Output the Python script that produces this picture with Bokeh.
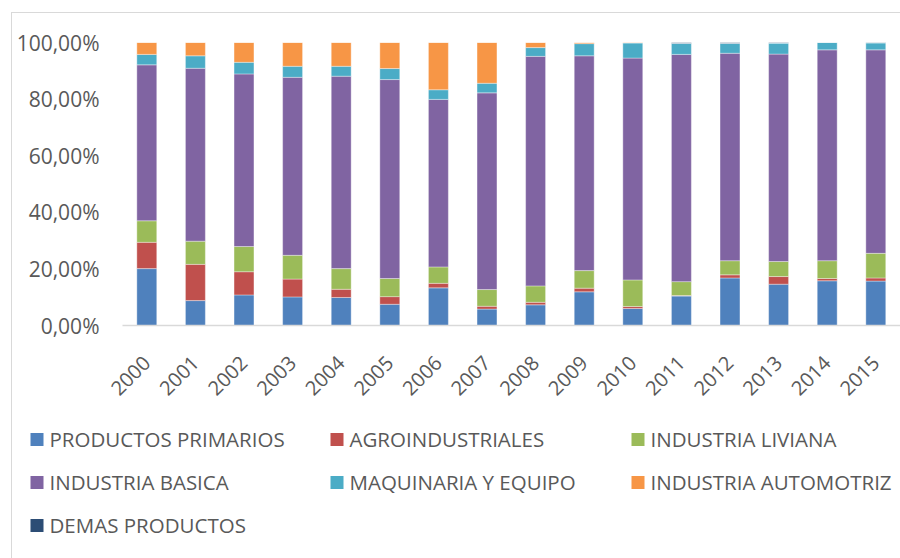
import math
from bokeh.plotting import figure
from bokeh.layouts import column, row
from bokeh.models import Range1d, FixedTicker, ColumnDataSource
from bokeh.core.properties import value
from bokeh.embed import file_html
from bokeh.resources import INLINE

years = [2000, 2001, 2002, 2003, 2004, 2005, 2006, 2007,
         2008, 2009, 2010, 2011, 2012, 2013, 2014, 2015]
year_labels = [str(y) for y in years]

primarios = [20.1, 8.8, 10.8, 10.1, 9.9, 7.5, 13.3, 5.8, 7.3, 11.9, 6.0, 10.4, 16.8, 14.6, 15.8, 15.7]
agro = [9.3, 12.8, 8.2, 6.3, 2.9, 2.7, 1.6, 1.0, 0.9, 1.3, 0.7, 0.2, 1.1, 2.7, 0.8, 1.1]
liviana = [7.6, 8.2, 8.9, 8.4, 7.3, 6.4, 5.8, 5.9, 5.8, 6.2, 9.4, 4.9, 5.0, 5.3, 6.3, 8.7]
basica = [55.1, 61.1, 61.0, 62.9, 68.0, 70.3, 59.2, 69.5, 81.1, 75.9, 78.4, 80.3, 73.3, 73.3, 74.5, 71.9]
maquinaria = [3.7, 4.4, 4.1, 3.9, 3.5, 3.9, 3.4, 3.4, 3.1, 4.3, 5.3, 3.9, 3.5, 3.9, 2.6, 2.5]
automotriz = [4.2, 4.7, 7.0, 8.4, 8.4, 9.2, 16.7, 14.4, 1.8, 0.4, 0.2, 0.0, 0.0, 0.0, 0.0, 0.0]
demas = [0.0, 0.0, 0.0, 0.0, 0.0, 0.0, 0.0, 0.0, 0.0, 0.0, 0.0, 0.3, 0.3, 0.2, 0.0, 0.1]

series_names = ["PRODUCTOS PRIMARIOS", "AGROINDUSTRIALES", "INDUSTRIA LIVIANA",
                "INDUSTRIA BASICA", "MAQUINARIA Y EQUIPO", "INDUSTRIA AUTOMOTRIZ",
                "DEMAS PRODUCTOS"]
series_values = [primarios, agro, liviana, basica, maquinaria, automotriz, demas]
colors = ["#4F81BD", "#C0504D", "#9BBB59", "#8064A2", "#4BACC6", "#F79646", "#2C4D75"]

y_ticks = [0, 20, 40, 60, 80, 100]
y_tick_labels = ["0,00%", "20,00%", "40,00%", "60,00%", "80,00%", "100,00%"]

keys = ["s%d" % i for i in range(len(series_names))]
data = {"x": years}
for k, v in zip(keys, series_values):
    data[k] = v

FONT = "Open Sans"
TXT = "#595959"
W = 900

# ---------------- main chart ----------------
p = figure(width=W, height=410, output_backend="svg", toolbar_location=None,
           x_range=Range1d(1999.5, 1999.5 + 778 / 48.6), y_range=Range1d(0, 100),
           min_border_left=122, min_border_right=0, min_border_top=42,
           min_border_bottom=85, border_fill_color=None)
p.outline_line_color = None
p.grid.visible = False

p.vbar_stack(keys, x="x", width=0.41, source=data, color=colors,
             line_color="white", line_width=0.6, line_alpha=0.6)

p.yaxis.ticker = FixedTicker(ticks=y_ticks)
p.yaxis.major_label_overrides = {t: l for t, l in zip(y_ticks, y_tick_labels)}
p.yaxis.axis_line_color = None
p.yaxis.major_tick_line_color = None
p.yaxis.minor_tick_line_color = None
p.yaxis.major_tick_out = 0
p.yaxis.major_label_standoff = 23
p.yaxis.major_label_text_font = FONT
p.yaxis.major_label_text_font_size = "21px"
p.yaxis.major_label_text_color = TXT

p.xaxis.ticker = FixedTicker(ticks=years)
p.xaxis.major_label_overrides = {y: l for y, l in zip(years, year_labels)}
p.xaxis.axis_line_color = "#d9d9d9"
p.xaxis.axis_line_width = 1.5
p.xaxis.major_tick_line_color = None
p.xaxis.minor_tick_line_color = None
p.xaxis.major_tick_out = 0
p.xaxis.major_label_standoff = 34
p.xaxis.major_label_orientation = math.pi / 4
p.xaxis.major_label_text_font = FONT
p.xaxis.major_label_text_font_size = "20px"
p.xaxis.major_label_text_color = TXT

# ---------------- legend (separate strip) ----------------
LH = 148
lg = figure(width=W, height=LH, output_backend="svg", toolbar_location=None,
            x_range=Range1d(0, W), y_range=Range1d(0, LH),
            x_axis_type=None, y_axis_type=None,
            min_border_left=0, min_border_right=0, min_border_top=0, min_border_bottom=0,
            border_fill_color=None, background_fill_color=None)
lg.outline_line_color = None
lg.grid.visible = False

col_x = [30, 330, 631]      # left edge of legend squares per column (px)
row_y = [119, 76, 33]       # row centres (px from bottom of strip)
SQ = 13
sq_x, sq_y, tx_x, tx_y = [], [], [], []
for i in range(len(series_names)):
    c, r = i % 3, i // 3
    sq_x.append(col_x[c] + SQ / 2)
    sq_y.append(row_y[r])
    tx_x.append(col_x[c] + 19)
    tx_y.append(row_y[r] + 1)

lsrc = ColumnDataSource(dict(sx=sq_x, sy=sq_y, tx=tx_x, ty=tx_y,
                             name=series_names, color=colors))
lg.scatter("sx", "sy", marker="square", size=SQ, color="color", line_color=None, source=lsrc)
lg.text("tx", "ty", text="name", source=lsrc, text_font=value(FONT),
        text_font_size="20.5px", text_color=TXT, text_baseline="middle", text_align="left")

layout = column(p, row(lg, spacing=0), spacing=0)
layout.styles = {
    "background-image": "linear-gradient(#d9d9d9,#d9d9d9), linear-gradient(#d9d9d9,#d9d9d9)",
    "background-size": "1px 100%, 100% 1px",
    "background-position": "11px 12px, 11px 12px",
    "background-repeat": "no-repeat",
}

open("out.html", "w").write(file_html(layout, INLINE))
